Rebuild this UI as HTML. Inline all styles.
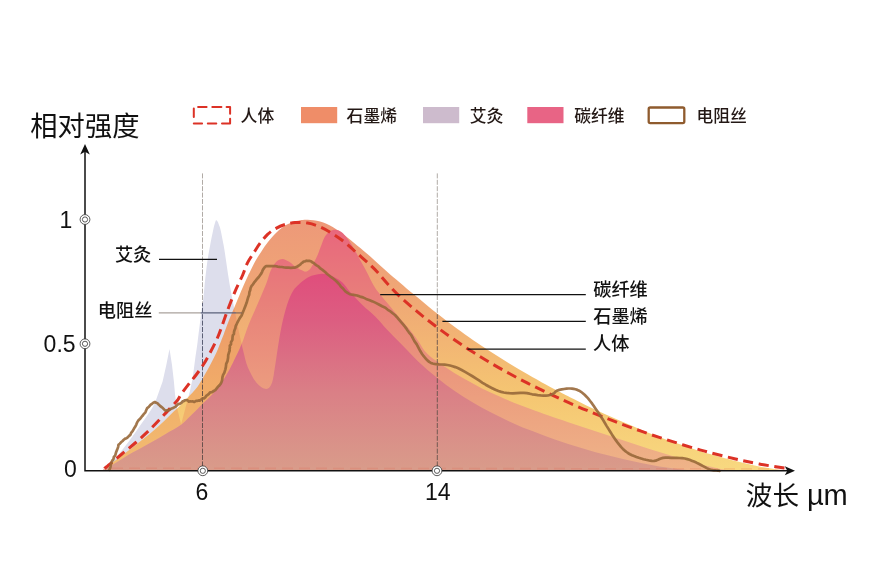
<!DOCTYPE html>
<html lang="zh"><head><meta charset="utf-8"><title>chart</title>
<style>
html,body{margin:0;padding:0;background:#fff;}
body{width:878px;height:569px;overflow:hidden;position:relative;font-family:"Liberation Sans","Noto Sans CJK SC",sans-serif;color:#111;}
svg{position:absolute;left:0;top:0;display:block}
text{font-family:"Liberation Sans","Noto Sans CJK SC",sans-serif;fill:#111}
.t{font-size:27.3px}
.n{font-size:23px}
.l{font-size:16.8px;fill:#231815;font-weight:500}
.a{font-size:18.2px;font-weight:500}
</style></head><body>
<svg width="878" height="569" viewBox="0 0 878 569">
<defs>
<linearGradient id="gG" x1="0" y1="218" x2="0" y2="471" gradientUnits="userSpaceOnUse">
<stop offset="0" stop-color="#ed9879"/><stop offset="0.35" stop-color="#f0aa75"/><stop offset="0.7" stop-color="#f5c672"/><stop offset="1" stop-color="#f8d980"/>
</linearGradient>
<linearGradient id="gP" x1="0" y1="229" x2="0" y2="471" gradientUnits="userSpaceOnUse">
<stop offset="0" stop-color="#e8677d"/><stop offset="0.3" stop-color="#e8807a"/><stop offset="0.7" stop-color="#ec9f7f"/><stop offset="1" stop-color="#efb488"/>
</linearGradient>
<linearGradient id="gF" x1="0" y1="272" x2="0" y2="471" gradientUnits="userSpaceOnUse">
<stop offset="0" stop-color="#e04d7c"/><stop offset="0.25" stop-color="#dc5e81"/><stop offset="0.6" stop-color="#da7f86"/><stop offset="1" stop-color="#d99c8a"/>
</linearGradient>
<clipPath id="cG"><path d="M103.5,470.8 C104.2,470.1 104.8,468.7 107.5,466.4 C110.2,464.1 115.8,460.1 120.0,457.0 C124.2,453.9 128.4,450.8 132.6,447.6 C136.8,444.4 140.9,441.1 145.1,437.6 C149.3,434.2 154.3,429.8 157.7,426.9 C161.0,424.0 162.7,422.4 165.2,420.0 C167.7,417.6 170.2,414.9 172.7,412.5 C175.2,410.1 177.3,408.4 180.2,405.5 C183.1,402.6 187.3,398.3 190.2,395.1 C193.1,391.9 195.4,389.5 197.7,386.4 C200.0,383.3 201.8,379.9 203.9,376.3 C206.0,372.8 208.1,369.1 210.2,365.1 C212.3,361.1 214.6,356.7 216.5,352.5 C218.4,348.3 220.3,343.1 221.5,340.0 C222.7,336.9 222.5,337.6 223.9,333.9 C225.3,330.2 228.0,322.8 230.1,317.6 C232.2,312.4 234.3,307.6 236.4,302.6 C238.5,297.6 240.7,292.1 242.7,287.5 C244.7,282.9 247.1,277.7 248.3,275.0 C249.5,272.3 249.0,273.7 250.1,271.4 C251.2,269.1 253.2,264.7 255.1,261.4 C257.0,258.1 259.3,254.5 261.4,251.4 C263.5,248.3 265.3,245.5 267.6,242.6 C269.9,239.7 272.7,236.4 275.2,233.8 C277.7,231.2 279.9,229.1 282.6,227.2 C285.3,225.3 288.6,223.7 291.5,222.5 C294.4,221.3 297.5,220.8 300.2,220.3 C302.9,219.9 304.3,219.6 307.6,219.8 C310.9,220.0 315.9,220.3 320.1,221.5 C324.3,222.7 328.5,224.6 332.7,227.0 C336.9,229.4 341.0,232.6 345.2,235.8 C349.4,239.0 353.5,242.6 357.7,246.0 C361.9,249.4 365.3,252.0 370.3,256.4 C375.3,260.8 380.6,266.0 387.7,272.2 C394.8,278.4 404.4,286.5 412.8,293.5 C421.2,300.5 430.5,308.3 437.8,314.1 C445.1,319.9 450.6,324.0 456.5,328.3 C462.4,332.6 467.1,335.9 472.9,339.9 C478.7,343.9 485.0,348.1 491.1,352.1 C497.2,356.0 503.2,359.8 509.3,363.5 C515.4,367.2 521.5,370.8 527.6,374.3 C533.7,377.9 540.4,381.6 545.8,384.5 C551.2,387.5 556.3,390.1 560.0,392.1 C563.7,394.1 563.8,394.1 568.2,396.3 C572.6,398.6 580.3,402.4 586.4,405.4 C592.5,408.3 598.6,411.2 604.7,414.0 C610.8,416.8 616.8,419.4 622.9,422.1 C629.0,424.7 635.0,427.2 641.1,429.7 C647.2,432.2 653.2,434.5 659.3,436.9 C665.4,439.2 671.5,441.4 677.6,443.6 C683.7,445.7 690.4,448.0 695.8,449.7 C701.2,451.5 703.5,452.3 710.0,454.1 C716.5,456.0 726.3,458.8 734.5,460.8 C742.7,462.9 751.9,464.9 759.3,466.4 C766.7,467.9 774.4,469.0 779.0,469.7 C783.6,470.5 785.7,470.6 787.0,470.8 Z"/></clipPath>
<clipPath id="cP"><path d="M102.5,470.8 C105.4,469.0 115.0,463.2 120.0,460.2 C125.0,457.2 128.4,455.0 132.6,452.6 C136.8,450.2 140.9,448.0 145.1,445.7 C149.3,443.4 153.5,441.2 157.7,438.8 C161.9,436.4 166.2,433.7 170.2,431.3 C174.2,428.9 178.2,426.9 181.5,424.4 C184.8,421.9 187.3,419.1 190.2,416.3 C193.1,413.5 196.7,409.8 199.0,407.5 C201.3,405.2 202.0,404.3 203.9,402.5 C205.8,400.7 208.1,398.7 210.2,396.5 C212.3,394.3 214.4,392.1 216.5,389.5 C218.6,386.9 220.6,384.2 222.7,381.0 C224.8,377.8 227.1,373.9 229.0,370.5 C230.9,367.1 232.2,364.2 234.0,360.5 C235.8,356.8 238.3,351.8 240.0,348.0 C241.7,344.2 242.5,341.8 243.9,338.0 C245.3,334.2 246.6,329.7 248.3,325.5 C250.0,321.3 251.9,317.2 253.9,312.6 C255.9,308.0 258.1,302.9 260.2,298.0 C262.3,293.1 264.8,287.5 266.5,283.0 C268.2,278.5 268.9,274.6 270.5,271.0 C272.1,267.4 274.3,263.7 276.3,261.7 C278.3,259.7 280.4,258.9 282.5,258.9 C284.6,258.9 286.7,260.4 288.8,261.6 C290.9,262.9 293.0,265.0 295.1,266.4 C297.2,267.8 299.5,269.2 301.3,270.1 C303.1,271.0 304.2,271.8 305.7,271.6 C307.2,271.4 308.7,270.4 310.1,268.9 C311.5,267.4 312.6,264.9 313.9,262.6 C315.1,260.3 316.4,258.0 317.6,255.1 C318.9,252.2 320.1,248.2 321.4,245.1 C322.6,242.0 323.6,238.6 325.1,236.3 C326.6,234.0 328.5,232.4 330.2,231.3 C331.9,230.2 333.3,229.7 335.2,229.8 C337.1,229.9 339.3,230.4 341.4,231.9 C343.5,233.4 345.6,236.0 347.7,238.8 C349.8,241.6 351.9,245.2 354.0,248.8 C356.1,252.4 358.1,256.3 360.2,260.1 C362.3,263.9 364.2,267.1 366.5,271.4 C368.8,275.7 371.7,282.1 374.0,286.0 C376.3,289.9 377.5,291.1 380.2,294.5 C382.9,297.9 386.8,302.4 390.2,306.5 C393.6,310.6 397.0,314.9 400.3,318.8 C403.6,322.7 407.0,326.3 410.0,330.0 C413.0,333.7 415.3,337.0 418.2,341.0 C421.1,345.0 422.7,349.3 427.3,353.7 C431.9,358.1 439.5,363.1 445.6,367.3 C451.7,371.4 457.7,375.1 463.8,378.6 C469.9,382.2 475.9,385.3 482.0,388.4 C488.1,391.4 494.1,394.2 500.2,396.8 C506.3,399.5 512.4,402.0 518.5,404.4 C524.6,406.8 531.5,409.3 536.7,411.2 C542.0,413.2 544.8,414.1 550.0,416.0 C555.2,417.8 562.1,420.1 568.2,422.2 C574.3,424.3 580.3,426.3 586.4,428.3 C592.5,430.3 598.6,432.3 604.7,434.3 C610.8,436.3 616.8,438.3 622.9,440.3 C629.0,442.3 635.0,444.3 641.1,446.2 C647.2,448.2 653.2,450.1 659.3,452.1 C665.4,454.0 671.5,455.9 677.6,457.7 C683.7,459.5 690.4,461.4 695.8,462.9 C701.2,464.4 704.3,465.2 710.0,466.5 C715.7,467.9 726.7,470.1 730.0,470.8 Z"/></clipPath>
</defs>
<rect width="878" height="569" fill="#fff"/>
<!-- moxibustion -->
<path d="M103.0,470.8 C104.8,469.0 109.5,465.1 113.8,460.2 C118.1,455.3 124.2,447.5 128.8,441.4 C133.4,435.3 137.9,428.8 141.4,423.8 C144.9,418.8 147.8,414.8 150.1,411.3 C152.4,407.8 154.2,404.1 155.0,402.7 L156.9,397.6 L162.6,381.4 L166.3,365.1 L169.5,349 L172,365.1 L173.9,381.4 L175.1,395.1 L176.6,406 L181.2,424.4 C182.5,419.5 187.4,400.8 188.9,395.1 C190.4,389.4 189.6,393.0 190.2,390.1 C190.8,387.2 191.9,382.8 192.7,377.6 C193.5,372.4 194.4,364.7 195.2,358.8 C196.0,352.9 196.6,349.7 197.6,342.0 C198.6,334.3 200.4,319.7 201.3,312.6 C202.2,305.5 202.7,303.4 203.2,299.6 C203.7,295.8 203.8,293.8 204.2,289.6 C204.6,285.5 205.1,279.7 205.7,274.7 C206.3,269.7 206.8,264.8 207.6,259.8 C208.3,254.8 209.3,249.9 210.2,244.9 C211.1,239.9 212.4,233.5 213.2,229.9 C214.0,226.3 214.4,224.8 214.9,223.2 C215.4,221.6 215.7,220.5 216.1,220.2 C216.5,219.9 216.9,220.6 217.4,221.3 C217.9,222.0 218.3,223.1 218.8,224.5 C219.3,225.9 219.8,226.5 220.6,229.9 C221.4,233.3 222.7,239.9 223.6,244.9 C224.5,249.9 225.2,254.8 225.9,259.8 C226.7,264.8 227.3,269.7 228.1,274.7 C228.9,279.7 229.8,285.4 230.6,289.6 C231.3,293.8 231.8,296.2 232.6,300.0 C233.3,303.8 234.3,308.4 235.1,312.6 C235.9,316.8 236.8,320.9 237.6,325.1 C238.4,329.3 239.2,333.2 240.2,337.7 C241.2,342.2 242.2,347.1 243.5,352.0 C244.8,356.9 245.6,362.1 247.8,367.2 C250.0,372.3 253.4,379.1 256.5,382.7 C259.6,386.3 263.6,388.9 266.2,388.9 C268.8,388.9 270.6,386.3 272.0,382.7 C273.4,379.1 273.9,373.0 274.9,367.2 C275.9,361.4 276.7,354.9 277.8,348.0 C278.9,341.1 280.1,333.2 281.6,326.0 C283.1,318.8 285.1,310.8 287.0,305.0 C288.9,299.2 291.0,294.4 293.0,291.0 C295.0,287.6 297.0,286.3 298.8,284.5 C300.6,282.7 301.7,281.6 303.8,280.2 C305.9,278.8 308.7,276.9 311.4,275.8 C314.1,274.8 317.4,274.1 320.1,273.9 C322.8,273.7 325.1,273.9 327.6,274.5 C330.1,275.1 332.7,276.3 335.2,277.7 C337.7,279.1 340.2,280.3 342.7,282.7 C345.2,285.1 346.8,288.2 350.1,292.0 C353.4,295.8 358.5,301.2 362.7,305.3 C366.9,309.4 371.0,312.3 375.2,316.5 C379.4,320.7 383.6,325.9 387.7,330.3 C391.8,334.7 394.9,337.6 400.0,342.8 C405.1,348.0 412.1,355.6 418.2,361.4 C424.3,367.1 430.3,372.3 436.4,377.2 C442.5,382.2 448.6,386.7 454.7,390.9 C460.8,395.1 466.8,398.9 472.9,402.5 C479.0,406.2 485.0,409.5 491.1,412.6 C497.2,415.8 503.2,418.7 509.3,421.4 C515.4,424.2 520.8,426.6 527.6,429.3 C534.4,432.0 543.2,435.3 550.0,437.7 C556.8,440.2 562.1,441.9 568.2,443.9 C574.3,445.8 580.3,447.7 586.4,449.4 C592.5,451.2 598.6,452.9 604.7,454.5 C610.8,456.1 616.8,457.7 622.9,459.1 C629.0,460.5 635.0,461.8 641.1,463.1 C647.2,464.3 653.2,465.4 659.3,466.4 C665.4,467.4 671.5,468.2 677.6,468.9 C683.7,469.6 690.9,470.1 695.8,470.4 C700.6,470.8 704.9,470.7 706.7,470.8 Z" fill="#dddeec"/>
<!-- graphene -->
<path d="M103.5,470.8 C104.2,470.1 104.8,468.7 107.5,466.4 C110.2,464.1 115.8,460.1 120.0,457.0 C124.2,453.9 128.4,450.8 132.6,447.6 C136.8,444.4 140.9,441.1 145.1,437.6 C149.3,434.2 154.3,429.8 157.7,426.9 C161.0,424.0 162.7,422.4 165.2,420.0 C167.7,417.6 170.2,414.9 172.7,412.5 C175.2,410.1 177.3,408.4 180.2,405.5 C183.1,402.6 187.3,398.3 190.2,395.1 C193.1,391.9 195.4,389.5 197.7,386.4 C200.0,383.3 201.8,379.9 203.9,376.3 C206.0,372.8 208.1,369.1 210.2,365.1 C212.3,361.1 214.6,356.7 216.5,352.5 C218.4,348.3 220.3,343.1 221.5,340.0 C222.7,336.9 222.5,337.6 223.9,333.9 C225.3,330.2 228.0,322.8 230.1,317.6 C232.2,312.4 234.3,307.6 236.4,302.6 C238.5,297.6 240.7,292.1 242.7,287.5 C244.7,282.9 247.1,277.7 248.3,275.0 C249.5,272.3 249.0,273.7 250.1,271.4 C251.2,269.1 253.2,264.7 255.1,261.4 C257.0,258.1 259.3,254.5 261.4,251.4 C263.5,248.3 265.3,245.5 267.6,242.6 C269.9,239.7 272.7,236.4 275.2,233.8 C277.7,231.2 279.9,229.1 282.6,227.2 C285.3,225.3 288.6,223.7 291.5,222.5 C294.4,221.3 297.5,220.8 300.2,220.3 C302.9,219.9 304.3,219.6 307.6,219.8 C310.9,220.0 315.9,220.3 320.1,221.5 C324.3,222.7 328.5,224.6 332.7,227.0 C336.9,229.4 341.0,232.6 345.2,235.8 C349.4,239.0 353.5,242.6 357.7,246.0 C361.9,249.4 365.3,252.0 370.3,256.4 C375.3,260.8 380.6,266.0 387.7,272.2 C394.8,278.4 404.4,286.5 412.8,293.5 C421.2,300.5 430.5,308.3 437.8,314.1 C445.1,319.9 450.6,324.0 456.5,328.3 C462.4,332.6 467.1,335.9 472.9,339.9 C478.7,343.9 485.0,348.1 491.1,352.1 C497.2,356.0 503.2,359.8 509.3,363.5 C515.4,367.2 521.5,370.8 527.6,374.3 C533.7,377.9 540.4,381.6 545.8,384.5 C551.2,387.5 556.3,390.1 560.0,392.1 C563.7,394.1 563.8,394.1 568.2,396.3 C572.6,398.6 580.3,402.4 586.4,405.4 C592.5,408.3 598.6,411.2 604.7,414.0 C610.8,416.8 616.8,419.4 622.9,422.1 C629.0,424.7 635.0,427.2 641.1,429.7 C647.2,432.2 653.2,434.5 659.3,436.9 C665.4,439.2 671.5,441.4 677.6,443.6 C683.7,445.7 690.4,448.0 695.8,449.7 C701.2,451.5 703.5,452.3 710.0,454.1 C716.5,456.0 726.3,458.8 734.5,460.8 C742.7,462.9 751.9,464.9 759.3,466.4 C766.7,467.9 774.4,469.0 779.0,469.7 C783.6,470.5 785.7,470.6 787.0,470.8 Z" fill="url(#gG)"/>
<path d="M103.0,470.8 C104.8,469.0 109.5,465.1 113.8,460.2 C118.1,455.3 124.2,447.5 128.8,441.4 C133.4,435.3 137.9,428.8 141.4,423.8 C144.9,418.8 147.8,414.8 150.1,411.3 C152.4,407.8 154.2,404.1 155.0,402.7 L156.9,397.6 L162.6,381.4 L166.3,365.1 L169.5,349 L172,365.1 L173.9,381.4 L175.1,395.1 L176.6,406 L181.2,424.4 C182.5,419.5 187.4,400.8 188.9,395.1 C190.4,389.4 189.6,393.0 190.2,390.1 C190.8,387.2 191.9,382.8 192.7,377.6 C193.5,372.4 194.4,364.7 195.2,358.8 C196.0,352.9 196.6,349.7 197.6,342.0 C198.6,334.3 200.4,319.7 201.3,312.6 C202.2,305.5 202.7,303.4 203.2,299.6 C203.7,295.8 203.8,293.8 204.2,289.6 C204.6,285.5 205.1,279.7 205.7,274.7 C206.3,269.7 206.8,264.8 207.6,259.8 C208.3,254.8 209.3,249.9 210.2,244.9 C211.1,239.9 212.4,233.5 213.2,229.9 C214.0,226.3 214.4,224.8 214.9,223.2 C215.4,221.6 215.7,220.5 216.1,220.2 C216.5,219.9 216.9,220.6 217.4,221.3 C217.9,222.0 218.3,223.1 218.8,224.5 C219.3,225.9 219.8,226.5 220.6,229.9 C221.4,233.3 222.7,239.9 223.6,244.9 C224.5,249.9 225.2,254.8 225.9,259.8 C226.7,264.8 227.3,269.7 228.1,274.7 C228.9,279.7 229.8,285.4 230.6,289.6 C231.3,293.8 231.8,296.2 232.6,300.0 C233.3,303.8 234.3,308.4 235.1,312.6 C235.9,316.8 236.8,320.9 237.6,325.1 C238.4,329.3 239.2,333.2 240.2,337.7 C241.2,342.2 242.2,347.1 243.5,352.0 C244.8,356.9 245.6,362.1 247.8,367.2 C250.0,372.3 253.4,379.1 256.5,382.7 C259.6,386.3 263.6,388.9 266.2,388.9 C268.8,388.9 270.6,386.3 272.0,382.7 C273.4,379.1 273.9,373.0 274.9,367.2 C275.9,361.4 276.7,354.9 277.8,348.0 C278.9,341.1 280.1,333.2 281.6,326.0 C283.1,318.8 285.1,310.8 287.0,305.0 C288.9,299.2 291.0,294.4 293.0,291.0 C295.0,287.6 297.0,286.3 298.8,284.5 C300.6,282.7 301.7,281.6 303.8,280.2 C305.9,278.8 308.7,276.9 311.4,275.8 C314.1,274.8 317.4,274.1 320.1,273.9 C322.8,273.7 325.1,273.9 327.6,274.5 C330.1,275.1 332.7,276.3 335.2,277.7 C337.7,279.1 340.2,280.3 342.7,282.7 C345.2,285.1 346.8,288.2 350.1,292.0 C353.4,295.8 358.5,301.2 362.7,305.3 C366.9,309.4 371.0,312.3 375.2,316.5 C379.4,320.7 383.6,325.9 387.7,330.3 C391.8,334.7 394.9,337.6 400.0,342.8 C405.1,348.0 412.1,355.6 418.2,361.4 C424.3,367.1 430.3,372.3 436.4,377.2 C442.5,382.2 448.6,386.7 454.7,390.9 C460.8,395.1 466.8,398.9 472.9,402.5 C479.0,406.2 485.0,409.5 491.1,412.6 C497.2,415.8 503.2,418.7 509.3,421.4 C515.4,424.2 520.8,426.6 527.6,429.3 C534.4,432.0 543.2,435.3 550.0,437.7 C556.8,440.2 562.1,441.9 568.2,443.9 C574.3,445.8 580.3,447.7 586.4,449.4 C592.5,451.2 598.6,452.9 604.7,454.5 C610.8,456.1 616.8,457.7 622.9,459.1 C629.0,460.5 635.0,461.8 641.1,463.1 C647.2,464.3 653.2,465.4 659.3,466.4 C665.4,467.4 671.5,468.2 677.6,468.9 C683.7,469.6 690.9,470.1 695.8,470.4 C700.6,470.8 704.9,470.7 706.7,470.8 Z" fill="#e05040" fill-opacity="0.2" clip-path="url(#cG)"/>
<!-- carbon fibre -->
<path d="M102.5,470.8 C105.4,469.0 115.0,463.2 120.0,460.2 C125.0,457.2 128.4,455.0 132.6,452.6 C136.8,450.2 140.9,448.0 145.1,445.7 C149.3,443.4 153.5,441.2 157.7,438.8 C161.9,436.4 166.2,433.7 170.2,431.3 C174.2,428.9 178.2,426.9 181.5,424.4 C184.8,421.9 187.3,419.1 190.2,416.3 C193.1,413.5 196.7,409.8 199.0,407.5 C201.3,405.2 202.0,404.3 203.9,402.5 C205.8,400.7 208.1,398.7 210.2,396.5 C212.3,394.3 214.4,392.1 216.5,389.5 C218.6,386.9 220.6,384.2 222.7,381.0 C224.8,377.8 227.1,373.9 229.0,370.5 C230.9,367.1 232.2,364.2 234.0,360.5 C235.8,356.8 238.3,351.8 240.0,348.0 C241.7,344.2 242.5,341.8 243.9,338.0 C245.3,334.2 246.6,329.7 248.3,325.5 C250.0,321.3 251.9,317.2 253.9,312.6 C255.9,308.0 258.1,302.9 260.2,298.0 C262.3,293.1 264.8,287.5 266.5,283.0 C268.2,278.5 268.9,274.6 270.5,271.0 C272.1,267.4 274.3,263.7 276.3,261.7 C278.3,259.7 280.4,258.9 282.5,258.9 C284.6,258.9 286.7,260.4 288.8,261.6 C290.9,262.9 293.0,265.0 295.1,266.4 C297.2,267.8 299.5,269.2 301.3,270.1 C303.1,271.0 304.2,271.8 305.7,271.6 C307.2,271.4 308.7,270.4 310.1,268.9 C311.5,267.4 312.6,264.9 313.9,262.6 C315.1,260.3 316.4,258.0 317.6,255.1 C318.9,252.2 320.1,248.2 321.4,245.1 C322.6,242.0 323.6,238.6 325.1,236.3 C326.6,234.0 328.5,232.4 330.2,231.3 C331.9,230.2 333.3,229.7 335.2,229.8 C337.1,229.9 339.3,230.4 341.4,231.9 C343.5,233.4 345.6,236.0 347.7,238.8 C349.8,241.6 351.9,245.2 354.0,248.8 C356.1,252.4 358.1,256.3 360.2,260.1 C362.3,263.9 364.2,267.1 366.5,271.4 C368.8,275.7 371.7,282.1 374.0,286.0 C376.3,289.9 377.5,291.1 380.2,294.5 C382.9,297.9 386.8,302.4 390.2,306.5 C393.6,310.6 397.0,314.9 400.3,318.8 C403.6,322.7 407.0,326.3 410.0,330.0 C413.0,333.7 415.3,337.0 418.2,341.0 C421.1,345.0 422.7,349.3 427.3,353.7 C431.9,358.1 439.5,363.1 445.6,367.3 C451.7,371.4 457.7,375.1 463.8,378.6 C469.9,382.2 475.9,385.3 482.0,388.4 C488.1,391.4 494.1,394.2 500.2,396.8 C506.3,399.5 512.4,402.0 518.5,404.4 C524.6,406.8 531.5,409.3 536.7,411.2 C542.0,413.2 544.8,414.1 550.0,416.0 C555.2,417.8 562.1,420.1 568.2,422.2 C574.3,424.3 580.3,426.3 586.4,428.3 C592.5,430.3 598.6,432.3 604.7,434.3 C610.8,436.3 616.8,438.3 622.9,440.3 C629.0,442.3 635.0,444.3 641.1,446.2 C647.2,448.2 653.2,450.1 659.3,452.1 C665.4,454.0 671.5,455.9 677.6,457.7 C683.7,459.5 690.4,461.4 695.8,462.9 C701.2,464.4 704.3,465.2 710.0,466.5 C715.7,467.9 726.7,470.1 730.0,470.8 Z" fill="url(#gP)"/>
<path d="M103.0,470.8 C104.8,469.0 109.5,465.1 113.8,460.2 C118.1,455.3 124.2,447.5 128.8,441.4 C133.4,435.3 137.9,428.8 141.4,423.8 C144.9,418.8 147.8,414.8 150.1,411.3 C152.4,407.8 154.2,404.1 155.0,402.7 L156.9,397.6 L162.6,381.4 L166.3,365.1 L169.5,349 L172,365.1 L173.9,381.4 L175.1,395.1 L176.6,406 L181.2,424.4 C182.5,419.5 187.4,400.8 188.9,395.1 C190.4,389.4 189.6,393.0 190.2,390.1 C190.8,387.2 191.9,382.8 192.7,377.6 C193.5,372.4 194.4,364.7 195.2,358.8 C196.0,352.9 196.6,349.7 197.6,342.0 C198.6,334.3 200.4,319.7 201.3,312.6 C202.2,305.5 202.7,303.4 203.2,299.6 C203.7,295.8 203.8,293.8 204.2,289.6 C204.6,285.5 205.1,279.7 205.7,274.7 C206.3,269.7 206.8,264.8 207.6,259.8 C208.3,254.8 209.3,249.9 210.2,244.9 C211.1,239.9 212.4,233.5 213.2,229.9 C214.0,226.3 214.4,224.8 214.9,223.2 C215.4,221.6 215.7,220.5 216.1,220.2 C216.5,219.9 216.9,220.6 217.4,221.3 C217.9,222.0 218.3,223.1 218.8,224.5 C219.3,225.9 219.8,226.5 220.6,229.9 C221.4,233.3 222.7,239.9 223.6,244.9 C224.5,249.9 225.2,254.8 225.9,259.8 C226.7,264.8 227.3,269.7 228.1,274.7 C228.9,279.7 229.8,285.4 230.6,289.6 C231.3,293.8 231.8,296.2 232.6,300.0 C233.3,303.8 234.3,308.4 235.1,312.6 C235.9,316.8 236.8,320.9 237.6,325.1 C238.4,329.3 239.2,333.2 240.2,337.7 C241.2,342.2 242.2,347.1 243.5,352.0 C244.8,356.9 245.6,362.1 247.8,367.2 C250.0,372.3 253.4,379.1 256.5,382.7 C259.6,386.3 263.6,388.9 266.2,388.9 C268.8,388.9 270.6,386.3 272.0,382.7 C273.4,379.1 273.9,373.0 274.9,367.2 C275.9,361.4 276.7,354.9 277.8,348.0 C278.9,341.1 280.1,333.2 281.6,326.0 C283.1,318.8 285.1,310.8 287.0,305.0 C288.9,299.2 291.0,294.4 293.0,291.0 C295.0,287.6 297.0,286.3 298.8,284.5 C300.6,282.7 301.7,281.6 303.8,280.2 C305.9,278.8 308.7,276.9 311.4,275.8 C314.1,274.8 317.4,274.1 320.1,273.9 C322.8,273.7 325.1,273.9 327.6,274.5 C330.1,275.1 332.7,276.3 335.2,277.7 C337.7,279.1 340.2,280.3 342.7,282.7 C345.2,285.1 346.8,288.2 350.1,292.0 C353.4,295.8 358.5,301.2 362.7,305.3 C366.9,309.4 371.0,312.3 375.2,316.5 C379.4,320.7 383.6,325.9 387.7,330.3 C391.8,334.7 394.9,337.6 400.0,342.8 C405.1,348.0 412.1,355.6 418.2,361.4 C424.3,367.1 430.3,372.3 436.4,377.2 C442.5,382.2 448.6,386.7 454.7,390.9 C460.8,395.1 466.8,398.9 472.9,402.5 C479.0,406.2 485.0,409.5 491.1,412.6 C497.2,415.8 503.2,418.7 509.3,421.4 C515.4,424.2 520.8,426.6 527.6,429.3 C534.4,432.0 543.2,435.3 550.0,437.7 C556.8,440.2 562.1,441.9 568.2,443.9 C574.3,445.8 580.3,447.7 586.4,449.4 C592.5,451.2 598.6,452.9 604.7,454.5 C610.8,456.1 616.8,457.7 622.9,459.1 C629.0,460.5 635.0,461.8 641.1,463.1 C647.2,464.3 653.2,465.4 659.3,466.4 C665.4,467.4 671.5,468.2 677.6,468.9 C683.7,469.6 690.9,470.1 695.8,470.4 C700.6,470.8 704.9,470.7 706.7,470.8 Z" fill="url(#gF)" clip-path="url(#cP)"/>
<!-- guides -->
<g stroke-width="0.9" stroke-dasharray="5 1.4" fill="none">
<line x1="202.5" y1="173.4" x2="202.5" y2="303" stroke="#a8a19c"/>
<line x1="202.5" y1="303" x2="202.5" y2="380" stroke="#4c5068" stroke-dashoffset="1.6"/>
<line x1="202.5" y1="380" x2="202.5" y2="466" stroke="#5e4a46" stroke-width="0.9" stroke-dashoffset="1.8"/>
<line x1="437.3" y1="173.4" x2="437.3" y2="313" stroke="#a8a19c"/>
<line x1="437.3" y1="313" x2="437.3" y2="466" stroke-width="0.9" stroke="#66524c" stroke-dashoffset="5.2"/>
</g>
<!-- human -->
<line x1="112" y1="468.2" x2="786" y2="468.9" stroke="#e8503c" stroke-opacity="0.16" stroke-width="1.6" stroke-dasharray="11 6"/>
<path d="M104.5,468.6 C104.8,468.3 103.5,469.4 106.3,467.0 C109.1,464.6 116.3,458.7 121.3,454.5 C126.3,450.3 131.6,446.2 136.4,442.0 C141.2,437.8 145.7,433.7 150.1,429.4 C154.5,425.1 159.1,420.1 162.7,416.3 C166.2,412.6 168.9,409.6 171.4,406.9 C173.9,404.2 176.0,402.2 177.7,400.0 C179.4,397.8 179.5,396.6 181.4,393.9 C183.3,391.2 186.4,387.1 188.9,383.9 C191.4,380.7 193.9,377.9 196.4,374.5 C198.9,371.1 201.6,367.5 203.9,363.8 C206.2,360.1 208.1,356.5 210.2,352.5 C212.3,348.5 214.6,344.1 216.5,340.0 C218.4,335.9 219.6,332.6 221.4,327.6 C223.2,322.6 225.3,316.2 227.6,310.1 C229.9,304.1 232.6,297.2 235.1,291.3 C237.6,285.4 240.6,279.8 242.7,275.0 C244.8,270.2 245.7,266.3 247.6,262.6 C249.5,258.9 251.8,255.8 253.9,252.6 C256.0,249.4 257.8,246.2 260.1,243.2 C262.4,240.2 265.1,236.8 267.6,234.4 C270.1,232.0 272.3,230.5 275.2,228.8 C278.1,227.1 281.9,225.4 285.2,224.4 C288.5,223.4 291.4,222.8 295.1,222.6 C298.8,222.4 303.4,222.4 307.6,223.1 C311.8,223.8 315.9,225.1 320.1,226.9 C324.3,228.7 328.5,231.2 332.7,233.8 C336.9,236.4 341.0,239.3 345.2,242.6 C349.4,245.9 353.5,250.1 357.7,253.8 C361.9,257.6 366.9,262.0 370.3,265.1 C373.7,268.2 374.9,269.5 377.8,272.6 C380.7,275.8 383.9,279.9 387.7,284.0 C391.4,288.1 396.1,293.1 400.3,297.0 C404.5,301.0 408.6,304.4 412.8,307.9 C417.0,311.5 420.9,314.7 425.3,318.2 C429.7,321.7 434.3,325.2 439.2,328.8 C444.1,332.5 449.1,336.1 454.7,340.0 C460.3,343.8 466.8,348.2 472.9,352.0 C479.0,355.9 485.0,359.6 491.1,363.2 C497.2,366.8 503.2,370.2 509.3,373.5 C515.4,376.8 521.5,380.1 527.6,383.2 C533.7,386.3 540.4,389.5 545.8,392.1 C551.2,394.7 556.3,397.0 560.0,398.8 C563.7,400.5 563.8,400.5 568.2,402.4 C572.6,404.3 580.3,407.7 586.4,410.2 C592.5,412.8 598.6,415.2 604.7,417.6 C610.8,420.0 616.8,422.3 622.9,424.6 C629.0,426.9 635.0,429.0 641.1,431.2 C647.2,433.3 653.2,435.4 659.3,437.4 C665.4,439.4 671.5,441.3 677.6,443.2 C683.7,445.1 690.4,447.1 695.8,448.7 C701.2,450.2 703.5,450.9 710.0,452.6 C716.5,454.3 726.3,456.8 734.5,458.7 C742.7,460.6 750.2,462.3 759.3,464.0 C768.4,465.7 784.1,468.0 789.1,468.8" fill="none" stroke="#dc3226" stroke-width="3" stroke-dasharray="10.2 5.6" stroke-linejoin="round"/>
<!-- resistance wire -->
<path d="M109.3,469.9 L110.0,468.5 L110.5,466.8 L110.8,464.8 L111.5,462.6 L112.3,460.5 L113.4,459.3 L113.9,456.9 L115.2,455.5 L116.0,452.6 L117.2,449.6 L118.1,447.1 L118.5,444.8 L119.8,443.7 L121.0,442.3 L122.6,441.0 L123.8,439.7 L124.7,438.9 L126.5,438.3 L127.4,437.6 L128.8,436.1 L130.3,434.9 L131.1,432.9 L132.6,431.2 L134.0,428.6 L135.5,426.3 L136.3,424.6 L137.3,422.1 L138.5,420.2 L140.4,418.4 L141.7,416.7 L142.8,415.5 L144.0,413.8 L145.4,412.3 L146.3,410.0 L147.2,408.1 L149.0,406.7 L150.7,404.7 L152.0,403.8 L153.3,402.7 L154.9,402.0 L156.2,402.8 L157.4,403.2 L158.9,404.8 L159.8,405.6 L161.6,407.1 L163.3,408.6 L164.2,409.5 L165.6,410.7 L167.2,410.4 L167.6,410.4 L168.7,410.2 L170.2,409.5 L171.1,408.8 L173.1,407.9 L175.2,406.9 L176.5,405.7 L178.3,404.1 L180.1,403.6 L181.6,402.6 L182.6,401.4 L183.6,401.1 L184.7,400.3 L185.8,400.2 L186.9,400.0 L187.4,400.3 L188.2,400.8 L188.9,401.7 L190.3,401.3 L191.1,401.5 L192.5,401.3 L194.2,402.0 L195.2,401.4 L196.1,400.9 L197.6,400.8 L199.2,400.4 L199.8,400.6 L201.5,399.3 L202.7,398.4 L204.0,398.3 L205.5,397.2 L206.2,395.9 L207.3,395.1 L208.9,393.9 L210.1,392.4 L212.0,392.1 L213.7,391.0 L215.3,390.1 L216.3,388.9 L217.5,387.4 L218.1,386.5 L219.2,385.6 L220.6,383.9 L221.4,382.4 L222.2,379.8 L222.4,377.3 L223.1,374.9 L224.3,372.8 L225.3,369.6 L225.9,366.9 L226.2,363.9 L227.5,361.1 L228.1,357.8 L228.2,355.2 L228.9,352.8 L229.7,350.5 L229.5,349.4 L229.9,347.4 L229.8,345.7 L231.0,344.3 L231.0,342.2 L232.4,339.9 L232.5,337.7 L232.8,335.3 L233.9,334.0 L234.0,332.3 L234.4,330.4 L235.4,328.0 L235.6,326.3 L236.4,324.7 L237.4,322.5 L238.4,320.7 L239.9,317.9 L241.5,315.7 L242.6,313.0 L244.0,309.6 L245.4,305.9 L246.6,302.8 L247.3,300.3 L248.2,297.2 L249.2,294.7 L249.4,292.3 L250.2,290.2 L250.6,288.0 L251.6,285.9 L253.0,284.3 L254.0,282.7 L255.7,280.6 L257.2,278.7 L258.8,277.0 L260.2,275.0 L261.2,273.6 L262.1,271.8 L263.0,269.6 L263.5,268.9 L264.7,267.2 L265.0,266.8 L266.1,266.1 L267.6,266.1 L270.2,266.1 L272.3,266.1 L275.1,266.0 L277.7,266.6 L279.6,266.9 L281.9,267.0 L284.4,267.5 L286.1,267.6 L288.6,267.7 L290.8,267.8 L293.3,267.6 L295.1,267.6 L296.4,267.0 L297.9,266.3 L298.7,265.6 L300.2,264.7 L301.2,263.5 L302.4,262.7 L303.7,261.5 L305.1,261.3 L306.5,260.7 L307.4,260.9 L308.9,260.9 L309.9,260.9 L311.4,261.5 L312.2,262.3 L313.7,263.0 L314.9,264.1 L316.6,265.4 L318.7,266.7 L320.7,268.7 L322.5,269.9 L324.5,271.5 L326.2,273.1 L328.1,274.7 L330.1,276.3 L332.2,277.8 L334.0,279.3 L335.8,280.8 L337.6,282.5 L339.5,284.6 L340.8,286.5 L342.7,288.2 L344.2,290.0 L345.4,291.4 L346.8,292.3 L348.4,293.4 L350.0,294.2 L352.4,294.7 L354.7,295.1 L357.2,295.5 L360.0,296.6 L363.0,297.4 L366.1,298.9 L369.7,300.2 L372.6,301.4 L375.8,302.9 L378.9,304.5 L382.1,306.3 L385.4,307.8 L387.8,309.8 L390.5,311.4 L392.7,313.3 L395.2,315.3 L397.0,317.2 L398.6,319.1 L400.3,321.1 L401.8,322.8 L403.3,324.6 L404.7,326.3 L406.0,328.1 L407.4,330.2 L408.9,332.3 L411.1,334.9 L412.8,338.0 L414.4,341.1 L416.6,344.1 L418.4,347.6 L420.1,350.8 L421.9,353.7 L423.7,356.2 L425.6,358.5 L427.4,360.4 L429.2,361.9 L430.9,362.9 L432.6,363.5 L434.3,363.8 L436.4,364.1 L438.9,364.4 L441.7,364.5 L444.6,364.6 L447.4,365.0 L450.0,365.5 L452.6,366.2 L455.3,367.1 L458.3,368.3 L461.7,370.0 L465.5,372.1 L469.3,374.3 L472.9,376.5 L476.2,378.6 L479.4,380.7 L482.5,382.8 L485.7,384.7 L488.9,386.5 L492.2,388.2 L495.4,389.8 L498.4,391.0 L501.2,391.9 L503.7,392.5 L506.4,392.9 L509.3,393.2 L512.8,393.3 L516.6,393.1 L520.4,392.9 L523.9,392.9 L526.9,393.2 L529.6,393.7 L532.2,394.3 L534.9,394.7 L537.7,395.1 L540.6,395.4 L543.3,395.6 L545.8,395.6 L548.0,395.4 L549.9,395.0 L551.6,394.4 L553.1,393.8 L554.3,393.0 L555.1,392.1 L556.0,391.3 L557.3,390.5 L559.3,389.9 L561.7,389.4 L564.1,389.0 L566.4,388.7 L568.4,388.5 L570.2,388.5 L571.9,388.6 L573.7,388.9 L575.5,389.3 L577.4,389.9 L579.2,390.7 L581.0,391.8 L582.8,393.2 L584.6,394.8 L586.5,396.7 L588.3,398.7 L590.1,401.0 L592.0,403.4 L593.8,406.1 L595.6,408.7 L597.4,411.3 L599.2,414.0 L601.0,416.8 L602.8,419.6 L604.6,422.5 L606.4,425.6 L608.3,428.6 L610.1,431.5 L611.9,434.4 L613.8,437.2 L615.6,439.9 L617.4,442.4 L619.2,444.7 L621.0,446.9 L622.9,448.9 L624.7,450.6 L626.5,452.0 L628.2,453.2 L630.0,454.2 L632.0,455.2 L634.1,456.1 L636.4,457.0 L638.8,457.8 L641.1,458.5 L643.5,459.2 L645.9,459.8 L648.2,460.3 L650.2,460.7 L651.8,460.9 L653.1,461.0 L654.3,460.9 L655.7,460.7 L657.3,460.1 L659.0,459.3 L660.9,458.5 L663.0,457.9 L665.5,457.7 L668.2,457.7 L671.1,457.8 L673.9,457.9 L676.7,457.9 L679.5,458.0 L682.2,458.2 L684.8,458.5 L687.2,459.1 L689.5,459.8 L691.7,460.7 L694.0,461.6 L696.3,462.6 L698.7,463.8 L701.0,465.0 L703.1,466.1 L705.0,467.1 L706.8,468.1 L708.5,468.9 L710.0,469.6 L711.4,470.0 L712.6,470.2 L713.8,470.3 L715.0,470.4 L716.3,470.5 L717.6,470.6 L718.7,470.7 L719.5,470.8" fill="none" stroke="#98683a" stroke-opacity="0.9" stroke-width="2.7" stroke-linejoin="round" stroke-linecap="round"/>
<!-- axes -->
<g stroke="#111" stroke-width="1.5" fill="none">
<path d="M85,150 L85,470.8 L788,470.8"/>
</g>
<path d="M85,144 L89.8,154.4 L85,151.8 L80.2,154.4 Z" fill="#111"/>
<path d="M795,470.8 L784.8,466.3 L787.3,470.8 L784.8,475.3 Z" fill="#111"/>
<g fill="#fff" stroke="#333" stroke-width="0.8">
<circle cx="85" cy="219.5" r="4.9"/><circle cx="85" cy="219.5" r="2.6"/>
<circle cx="85" cy="343.8" r="4.9"/><circle cx="85" cy="343.8" r="2.6"/>
<circle cx="202.8" cy="470.8" r="4.9"/><circle cx="202.8" cy="470.8" r="2.6"/>
<circle cx="437" cy="470.8" r="4.9"/><circle cx="437" cy="470.8" r="2.6"/>
</g>
<!-- leader lines -->
<g stroke="#111" stroke-width="1.25">
<line x1="159" y1="259.4" x2="217" y2="259.4"/>
<line x1="380.2" y1="294.7" x2="585.8" y2="294.7"/>
<line x1="442.4" y1="321.4" x2="585.8" y2="321.4"/>
<line x1="467.4" y1="349.2" x2="585.8" y2="349.2"/>
</g>
<g stroke-width="1.3"><line x1="158.8" y1="312.9" x2="200.5" y2="312.9" stroke="#aaa29c"/><line x1="200.5" y1="312.9" x2="236" y2="312.9" stroke="#5a607a"/><line x1="236" y1="312.9" x2="242.2" y2="312.9" stroke="#8a6a58"/></g>
<!-- legend -->
<path d="M198.1,107 H206.6 M212.3,107 H221.4 M226.6,107 H230.1 V113.7 M230.1,118.8 V123.4 H222 M216.3,123.4 H207.8 M202.1,123.4 H193.8 M193.8,117.1 V108.5" fill="none" stroke="#dc3226" stroke-width="2" stroke-linecap="round" stroke-linejoin="round"/>
<rect x="301" y="107" width="36.2" height="16.2" fill="#ef8d68"/>
<rect x="423" y="107" width="36.2" height="16.2" fill="#cdbbcd"/>
<rect x="527.3" y="107" width="36.2" height="16.2" fill="#e86485"/>
<rect x="648.7" y="107.5" width="35.6" height="15.6" rx="1.5" fill="none" stroke="#8f5b2e" stroke-width="2.3"/>
<text class="l" x="240.6" y="122.2">人体</text>
<text class="l" x="346.6" y="122.2">石墨烯</text>
<text class="l" x="469.8" y="122.2">艾灸</text>
<text class="l" x="574.2" y="122.2">碳纤维</text>
<text class="l" x="696.4" y="122.2">电阻丝</text>
<!-- labels -->
<text class="t" x="30.3" y="135.6">相对强度</text>
<text class="t" x="745.8" y="505.3" style="font-size:26.6px">波长 <tspan style="font-size:29px" dx="0.5">µm</tspan></text>
<text class="n" x="59.6" y="227.8">1</text>
<text class="n" x="43.6" y="352.3">0.5</text>
<text class="n" x="64" y="476.5">0</text>
<text class="n" x="195.6" y="500">6</text>
<text class="n" x="425" y="499.6">14</text>
<text class="a" x="114.9" y="261.4">艾灸</text>
<text class="a" x="97.8" y="317">电阻丝</text>
<text class="a" x="593.2" y="296.2">碳纤维</text>
<text class="a" x="593.2" y="322.6">石墨烯</text>
<text class="a" x="593" y="350.4">人体</text>
</svg>
</body></html>
